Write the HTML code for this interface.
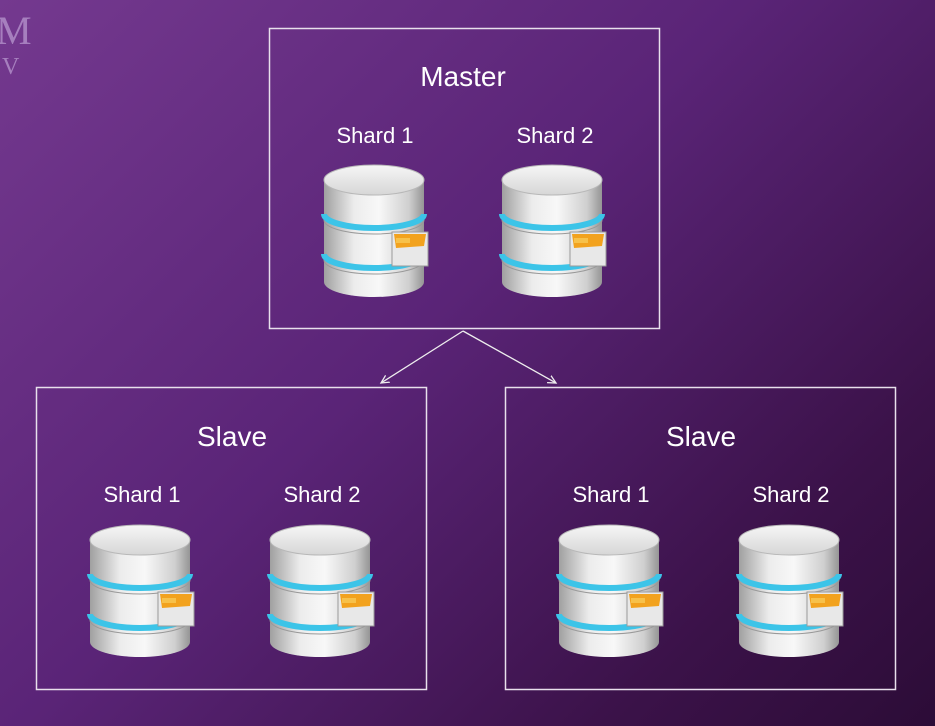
<!DOCTYPE html>
<html><head><meta charset="utf-8"><style>
html,body{margin:0;padding:0;width:935px;height:726px;overflow:hidden}
body{background:linear-gradient(135deg,#74398f 0%,#5a2477 45%,#3b1249 80%,#2c0c37 100%);font-family:"Liberation Sans","DejaVu Sans",sans-serif}
svg{position:absolute;left:0;top:0}
</style></head><body>
<svg width="935" height="726" viewBox="0 0 935 726">
<defs>
<linearGradient id="sil" x1="0" x2="1" y1="0" y2="0">
<stop offset="0" stop-color="#a0a0a0"/><stop offset="0.3" stop-color="#ececec"/><stop offset="0.55" stop-color="#f8f8f8"/><stop offset="0.85" stop-color="#cfcfcf"/><stop offset="1" stop-color="#959595"/>
</linearGradient>
<linearGradient id="top" x1="0" x2="0" y1="0" y2="1"><stop offset="0" stop-color="#f6f6f6"/><stop offset="1" stop-color="#d6d6d6"/></linearGradient>
<g id="db">
<path d="M2 18 L2 120 A50 15 0 0 0 102 120 L102 18 Z" fill="url(#sil)"/>
<path d="M2 52 A50 14 0 0 0 102 52" fill="none" stroke="#3cc4e8" stroke-width="6"/>
<path d="M2 92 A50 14 0 0 0 102 92" fill="none" stroke="#3cc4e8" stroke-width="6"/>
<path d="M2 58 A50 14 0 0 0 102 58" fill="none" stroke="#999" stroke-width="1"/>
<path d="M2 98 A50 14 0 0 0 102 98" fill="none" stroke="#999" stroke-width="1"/>
<ellipse cx="52" cy="18" rx="50" ry="15" fill="url(#top)" stroke="#b8b8b8"/>
<rect x="70" y="70" width="36" height="34" fill="#e8e8e8" stroke="#9a9a9a"/>
<path d="M72 72 L104 72 L102 84 L74 86 Z" fill="#f2a21e"/>
<rect x="74" y="76" width="14" height="5" fill="#f7c14a"/>
</g>
<marker id="ar" markerWidth="10" markerHeight="10" refX="8" refY="5" orient="auto" markerUnits="userSpaceOnUse"><path d="M0 1 L8 5 L0 9" fill="none" stroke="#eee" stroke-width="1.3"/></marker>
</defs>
<text x="-4" y="44" font-family="Liberation Serif,serif" font-size="40" fill="#a67fbe">M</text>
<text x="2" y="74" font-family="Liberation Serif,serif" font-size="24" fill="#a67fbe">V</text>
<g fill="none" stroke="#e8e0ec" stroke-width="1.5">
<rect x="269.5" y="28.5" width="390" height="300"/>
<rect x="36.5" y="387.5" width="390" height="302"/>
<rect x="505.5" y="387.5" width="390" height="302"/>
</g>
<line x1="463" y1="331" x2="381" y2="383" stroke="#eee" stroke-width="1.3" marker-end="url(#ar)"/>
<line x1="463" y1="331" x2="556" y2="383" stroke="#eee" stroke-width="1.3" marker-end="url(#ar)"/>
<g fill="#fff" text-anchor="middle">
<text x="463" y="86" font-size="28">Master</text>
<text x="375" y="143" font-size="22">Shard 1</text>
<text x="555" y="143" font-size="22">Shard 2</text>
<text x="232" y="446" font-size="28">Slave</text>
<text x="142" y="502" font-size="22">Shard 1</text>
<text x="322" y="502" font-size="22">Shard 2</text>
<text x="701" y="446" font-size="28">Slave</text>
<text x="611" y="502" font-size="22">Shard 1</text>
<text x="791" y="502" font-size="22">Shard 2</text>
</g>
<use href="#db" x="322" y="162"/>
<use href="#db" x="500" y="162"/>
<use href="#db" x="88" y="522"/>
<use href="#db" x="268" y="522"/>
<use href="#db" x="557" y="522"/>
<use href="#db" x="737" y="522"/>
</svg>
</body></html>
